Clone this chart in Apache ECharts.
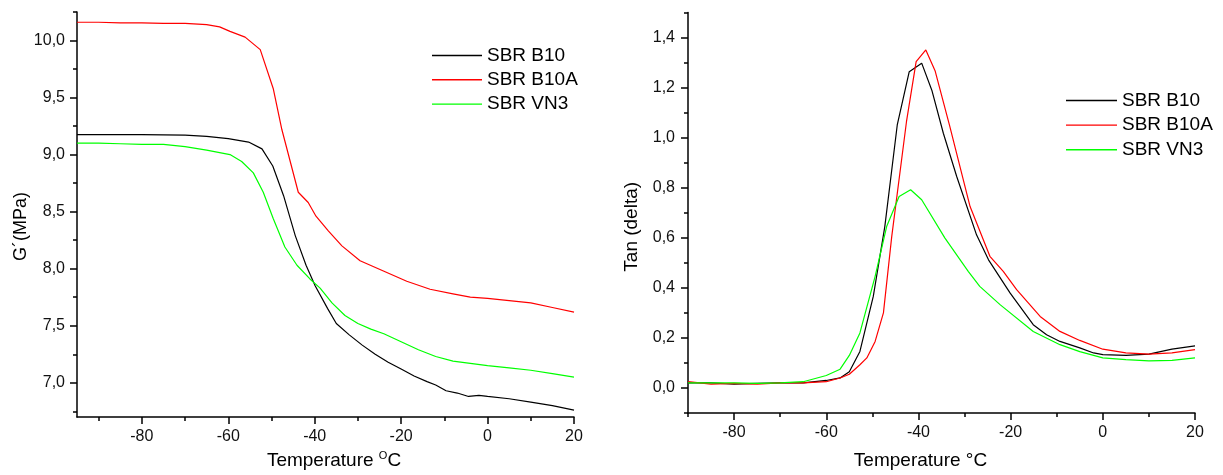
<!DOCTYPE html>
<html><head><meta charset="utf-8">
<script src="https://cdn.jsdelivr.net/npm/echarts@6/dist/echarts.min.js"></script>
<style>html,body{margin:0;padding:0;background:#fff}#c{width:1223px;height:475px}</style>
</head><body><div id="c"></div>
<script>
// ---- Left chart: G' (MPa) vs temperature ----
const names = ['SBR B10', 'SBR B10A', 'SBR VN3'];
const gB10_T = [-95,-90,-80,-70,-65,-60,-55.3,-52.2,-49.7,-47.2,-44.5,-42,-39.9,-37,-35,-32,-29,-26,-23,-20,-17,-14,-12,-9.6,-7,-4.4,-2,0,5,10,15,20];
const gB10_V = [9.175,9.175,9.175,9.17,9.16,9.14,9.11,9.05,8.90,8.64,8.29,8.03,7.85,7.65,7.52,7.42,7.33,7.25,7.18,7.12,7.06,7.01,6.98,6.93,6.91,6.88,6.89,6.88,6.86,6.83,6.80,6.76];
const gB10A_T = [-95,-90,-85,-80,-75,-70,-65,-62,-59.6,-56.1,-52.6,-49.6,-47.6,-43.8,-41.5,-39.7,-36.8,-33.7,-29.5,-24.1,-18.7,-13.3,-8,-4,0,5,10,15,20];
const gB10A_V = [10.16,10.16,10.155,10.155,10.15,10.15,10.14,10.12,10.08,10.03,9.92,9.58,9.22,8.67,8.58,8.46,8.33,8.20,8.07,7.98,7.89,7.82,7.78,7.75,7.74,7.72,7.70,7.66,7.62];
const gVN3_T = [-95,-90,-85,-80,-75,-70,-65,-59.6,-56.9,-54.2,-51.9,-49.6,-46.9,-44.1,-41.1,-38.75,-36,-33,-30,-27,-24,-20,-16,-12,-8,-4,0,5,10,15,20];
const gVN3_V = [9.10,9.10,9.095,9.09,9.09,9.07,9.04,9.00,8.94,8.84,8.67,8.44,8.19,8.03,7.91,7.83,7.70,7.59,7.52,7.47,7.43,7.36,7.29,7.23,7.19,7.17,7.15,7.13,7.11,7.08,7.05];
const leftXTicks = [-80,-60,-40,-20,0,20];
const leftXMinor = [-90,-70,-50,-30,-10,10];
const leftYTicks = [7.0,7.5,8.0,8.5,9.0,9.5,10.0];
const leftYMinor = [6.75,7.25,7.75,8.25,8.75,9.25,9.75,10.25];

// ---- Right chart: Tan (delta) vs temperature ----
const tB10_T = [-90,-85,-80,-75,-70,-65,-60,-57,-55,-52.7,-49.8,-47.3,-44.6,-42,-39.3,-37.1,-34.6,-31.7,-27.4,-24.8,-20.1,-15.1,-12.2,-9.3,-5,-2,0,5,10,15,20];
const tB10_V = [0.02,0.02,0.015,0.018,0.02,0.02,0.03,0.04,0.065,0.146,0.366,0.645,1.051,1.264,1.298,1.19,1.018,0.845,0.612,0.512,0.379,0.253,0.213,0.186,0.16,0.14,0.133,0.13,0.135,0.155,0.168];
const tB10A_T = [-90,-85,-80,-75,-70,-65,-60,-57,-55,-52.7,-51.2,-49.4,-47.6,-45.8,-42.6,-40.5,-38.4,-36.4,-33.2,-28.8,-24.5,-21.6,-18.7,-13.6,-9.3,-5,0,5,10,15,20];
const tB10A_V = [0.025,0.015,0.018,0.015,0.02,0.02,0.025,0.04,0.055,0.093,0.12,0.186,0.30,0.605,1.064,1.304,1.351,1.268,1.045,0.725,0.526,0.466,0.393,0.286,0.226,0.19,0.155,0.14,0.135,0.14,0.153];
const tVN3_T = [-90,-85,-80,-75,-70,-65,-60,-57,-55,-52.7,-49.4,-46.9,-44.2,-41.7,-39.3,-34.25,-29.2,-26.7,-22.3,-15.1,-9.3,-5,0,5,10,15,20];
const tVN3_V = [0.02,0.02,0.02,0.018,0.02,0.025,0.05,0.075,0.13,0.22,0.446,0.645,0.765,0.792,0.752,0.599,0.466,0.406,0.333,0.226,0.173,0.145,0.12,0.113,0.108,0.11,0.12];
const rightXTicks = [-80,-60,-40,-20,0,20];
const rightXMinor = [-90,-70,-50,-30,-10,10];
const rightYTicks = [0.0,0.2,0.4,0.6,0.8,1.0,1.2,1.4];
const rightYMinor = [-0.1,0.1,0.3,0.5,0.7,0.9,1.1,1.3,1.5];

const colors = ['#000000', '#ff0000', '#00ff00'];
const FONT = '"Liberation Sans", Arial, sans-serif';
const comma = v => v.toFixed(1).replace('.', ',');
const pairs = (xs, ys) => xs.map((x, i) => [x, ys[i]]);

const labelStyle = {color: '#111', fontSize: 16, fontFamily: FONT};
function mainAxis(grid, pos, min, max, ticks, fmt, margin, nameOpt) {
  return Object.assign({
    type: 'value', gridIndex: grid, position: pos, min: min, max: max,
    axisLine: {show: true, onZero: false, lineStyle: {color: '#000', width: 1.5}},
    splitLine: {show: false},
    axisTick: {show: true, inside: false, length: 7, customValues: ticks, lineStyle: {color: '#000', width: 1.5}},
    axisLabel: Object.assign({show: true, margin: margin, customValues: ticks, formatter: fmt}, labelStyle)
  }, nameOpt);
}
function tickAxis(grid, pos, min, max, ticks, len) {
  return {
    type: 'value', gridIndex: grid, position: pos, min: min, max: max,
    axisLine: {show: false, onZero: false}, splitLine: {show: false},
    axisTick: {show: true, inside: false, length: len, customValues: ticks, lineStyle: {color: '#000', width: 1.5}},
    axisLabel: {show: false}
  };
}
const intFmt = v => String(Math.round(v));

const chart = echarts.init(document.getElementById('c'), null, {renderer: 'canvas'});
const lineSeries = (name, xi, yi, data, color) => ({
  name: name, type: 'line', xAxisIndex: xi, yAxisIndex: yi, data: data,
  symbol: 'none', showSymbol: false, smooth: false, color: color,
  lineStyle: {color: color, width: 1.2}, animation: false
});
const legendCommon = {
  data: names, orient: 'vertical', icon: 'rect', itemHeight: 1.4, selectedMode: false,
  textStyle: {fontSize: 19, lineHeight: 20, color: '#000', fontFamily: FONT}
};

chart.setOption({
  animation: false,
  backgroundColor: '#fff',
  textStyle: {fontFamily: FONT},
  grid: [
    {left: 77, top: 12, right: 649, bottom: 56, containLabel: false},
    {left: 688, top: 12.6, right: 28, bottom: 61.6, containLabel: false}
  ],
  legend: [
    Object.assign({left: 427, top: 40.5, itemWidth: 50, itemGap: 4.3}, legendCommon),
    Object.assign({left: 1061, top: 85.5, itemWidth: 51, itemGap: 4.6}, legendCommon)
  ],
  xAxis: [
    mainAxis(0, 'bottom', -95, 20, leftXTicks, intFmt, 12, {
      name: 'Temperature {s|O}C', nameLocation: 'middle', nameGap: 33,
      nameTextStyle: {fontSize: 19, color: '#000', fontFamily: FONT, padding: [0, 0, 0, 17],
        rich: {s: {fontSize: 11, padding: [0, 0, 10, 0], fontFamily: FONT, color: '#000'}}}
    }),
    mainAxis(1, 'bottom', -90, 20, rightXTicks, intFmt, 12, {
      name: 'Temperature \u00B0C', nameLocation: 'middle', nameGap: 38,
      nameTextStyle: {fontSize: 19, color: '#000', fontFamily: FONT, padding: [0, 42, 0, 0]}
    }),
    tickAxis(0, 'bottom', -95, 20, leftXMinor, 4),
    tickAxis(1, 'bottom', -90, 20, rightXMinor, 4)
  ],
  yAxis: [
    mainAxis(0, 'left', 6.7, 10.25, leftYTicks, comma, 12, {
      name: 'G\u00B4(MPa)', nameLocation: 'middle', nameGap: 45, nameRotate: 90,
      nameTextStyle: {fontSize: 18, color: '#000', fontFamily: FONT, padding: [0, 24, 0, 0]}
    }),
    mainAxis(1, 'left', -0.1, 1.5, rightYTicks, comma, 13, {
      name: 'Tan (delta)', nameLocation: 'middle', nameGap: 47, nameRotate: 90,
      nameTextStyle: {fontSize: 19, color: '#000', fontFamily: FONT, padding: [0, 28, 0, 0]}
    }),
    tickAxis(0, 'left', 6.7, 10.25, leftYMinor, 4),
    tickAxis(1, 'left', -0.1, 1.5, rightYMinor, 4)
  ],
  series: [
    lineSeries(names[0], 0, 0, pairs(gB10_T, gB10_V), colors[0]),
    lineSeries(names[1], 0, 0, pairs(gB10A_T, gB10A_V), colors[1]),
    lineSeries(names[2], 0, 0, pairs(gVN3_T, gVN3_V), colors[2]),
    lineSeries(names[0], 1, 1, pairs(tB10_T, tB10_V), colors[0]),
    lineSeries(names[1], 1, 1, pairs(tB10A_T, tB10A_V), colors[1]),
    lineSeries(names[2], 1, 1, pairs(tVN3_T, tVN3_V), colors[2])
  ]
});
</script>
</body></html>
